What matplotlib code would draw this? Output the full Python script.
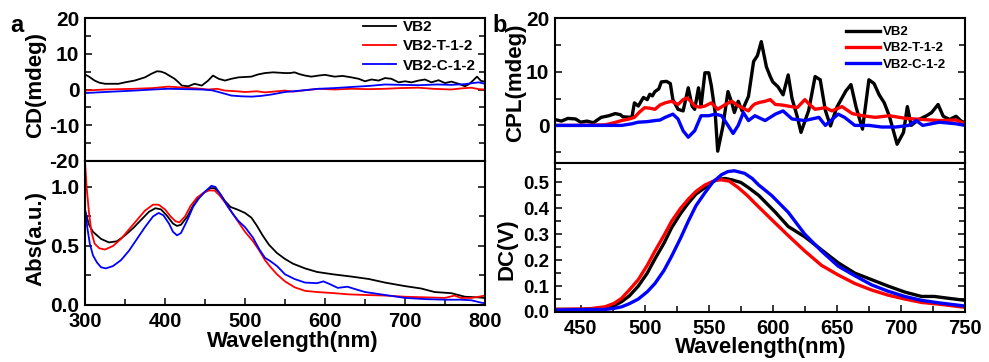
import matplotlib

matplotlib.use("Agg")
import matplotlib.pyplot as plt
from matplotlib.ticker import MultipleLocator

plt.rcParams["font.family"] = ["Liberation Sans", "DejaVu Sans"]
plt.rcParams["font.weight"] = "bold"
plt.rcParams["axes.unicode_minus"] = False

LABELS = ["VB2", "VB2-T-1-2", "VB2-C-1-2"]
COLORS = ["black", "#ff0000", "#0000ff"]

# ---- panel a, top: CD ----
cd_vb2_wl = [300, 305, 312, 318, 325, 342, 350, 362, 375, 383, 390, 395, 400, 406, 412, 417, 421, 429,
             437, 446, 454, 460, 467, 475, 483, 492, 500, 508, 516, 525, 535, 550, 556, 562, 568, 575,
             583, 592, 600, 612, 622, 633, 642, 650, 658, 667, 675, 683, 692, 700, 708, 717, 725, 733,
             742, 750, 758, 767, 775, 780, 785, 790, 795, 800]
cd_vb2 = [4.2, 3.6, 2.5, 1.9, 1.6, 1.6, 2.0, 2.5, 3.4, 4.4, 5.1, 5.0, 4.6, 3.8, 3.0, 2.0, 1.1, 0.9,
          1.6, 1.1, 2.5, 3.9, 3.0, 2.5, 3.0, 3.4, 3.5, 3.6, 4.2, 4.6, 4.8, 4.6, 4.6, 4.8, 4.3, 3.9,
          3.6, 3.9, 4.1, 3.6, 3.8, 3.4, 3.0, 2.3, 2.8, 2.5, 3.2, 3.0, 2.0, 2.3, 2.0, 2.5, 2.8, 2.0,
          2.6, 1.8, 2.2, 1.6, 0.9, 1.5, 2.5, 3.6, 2.4, 2.2]
cd_t_wl = [300, 325, 362, 385, 404, 412, 425, 440, 454, 465, 475, 490, 500, 515, 525, 540, 550, 560,
           575, 592, 612, 633, 655, 675, 695, 717, 735, 758, 770, 783, 792, 800]
cd_t = [-0.3, 0.0, 0.2, 0.4, 0.8, 0.7, 0.5, 0.3, 0.0, 0.2, -0.3, -0.5, -0.7, -0.5, -0.8, -0.5, -0.3, -0.6,
        -0.2, 0.2, 0.0, 0.2, 0.1, 0.2, 0.4, 0.5, 0.2, 0.0, 0.3, 0.5, 0.1, 0.0]
cd_c_wl = [300, 325, 362, 385, 404, 425, 446, 458, 467, 475, 483, 495, 508, 520, 533, 550, 570, 592,
           612, 633, 655, 675, 695, 717, 740, 758, 775, 785, 792, 800]
cd_c = [-1.0, -0.7, -0.3, 0.0, 0.2, 0.1, 0.0, -0.2, -0.7, -1.2, -1.7, -1.9, -2.0, -1.8, -1.4, -0.7, -0.3, 0.2,
        0.4, 0.7, 1.0, 1.4, 1.3, 1.2, 1.4, 1.3, 1.5, 1.8, 2.0, 1.6]

# ---- panel a, bottom: absorption ----
abs_vb2_wl = [300, 305, 310, 320, 330, 340, 350, 360, 370, 380, 388, 395, 402, 410, 415, 420, 428, 435,
              442, 450, 457, 462, 468, 475, 482, 490, 500, 508, 515, 522, 530, 540, 550, 560, 575, 590,
              610, 634, 655, 675, 700, 720, 737, 758, 775, 790, 800]
abs_vb2 = [0.80, 0.68, 0.62, 0.56, 0.53, 0.54, 0.59, 0.65, 0.72, 0.79, 0.82, 0.81, 0.76, 0.69, 0.67, 0.68,
           0.75, 0.84, 0.91, 0.96, 0.99, 0.99, 0.95, 0.88, 0.83, 0.81, 0.78, 0.74, 0.67, 0.59, 0.51, 0.44,
           0.39, 0.35, 0.31, 0.28, 0.26, 0.24, 0.22, 0.19, 0.16, 0.14, 0.11, 0.10, 0.07, 0.065, 0.06]
abs_t_wl = [300, 302, 305, 308, 312, 318, 325, 335, 345, 355, 365, 375, 385, 392, 400, 407, 413, 418,
            425, 432, 440, 448, 455, 462, 468, 475, 482, 490, 500, 510, 518, 525, 532, 540, 550, 562,
            575, 590, 612, 630, 650, 675, 700, 725, 750, 762, 770, 783, 792, 800]
abs_t = [1.22, 1.00, 0.78, 0.62, 0.52, 0.48, 0.47, 0.50, 0.56, 0.64, 0.72, 0.80, 0.85, 0.85, 0.81, 0.75,
         0.71, 0.70, 0.75, 0.84, 0.91, 0.95, 0.97, 0.97, 0.93, 0.87, 0.80, 0.72, 0.62, 0.54, 0.46, 0.38,
         0.32, 0.26, 0.20, 0.15, 0.12, 0.11, 0.10, 0.09, 0.085, 0.08, 0.07, 0.065, 0.06, 0.08, 0.06, 0.06,
         0.07, 0.08]
abs_c_wl = [300, 303, 306, 310, 315, 320, 326, 335, 345, 355, 365, 375, 385, 392, 398, 405, 410, 415,
            420, 428, 435, 442, 450, 458, 463, 470, 478, 485, 492, 500, 510, 518, 525, 532, 540, 550,
            562, 575, 590, 598, 605, 616, 628, 640, 650, 675, 700, 725, 750, 770, 783, 795, 800]
abs_c = [0.82, 0.65, 0.52, 0.42, 0.36, 0.32, 0.31, 0.33, 0.38, 0.46, 0.56, 0.66, 0.75, 0.78, 0.76, 0.69,
         0.62, 0.59, 0.61, 0.72, 0.83, 0.90, 0.96, 1.01, 1.00, 0.93, 0.84, 0.77, 0.71, 0.66, 0.57, 0.47,
         0.40, 0.37, 0.33, 0.26, 0.22, 0.19, 0.185, 0.20, 0.18, 0.145, 0.155, 0.13, 0.11, 0.085, 0.06,
         0.05, 0.045, 0.045, 0.04, 0.02, 0.015]

# ---- panel b, top: CPL ----
cpl_vb2_wl = [430, 435, 440, 446, 450, 455, 460, 466, 472, 477, 481, 483, 490, 492, 495, 499, 502, 504,
              506, 508, 511, 513, 517, 520, 522, 526, 530, 534, 537, 539, 542, 544, 547, 550, 552, 555,
              557, 561, 565, 568, 570, 573, 576, 581, 585, 588, 591, 595, 598, 600, 604, 608, 612, 615,
              619, 622, 628, 633, 637, 641, 645, 650, 657, 661, 665, 670, 675, 679, 683, 687, 691, 697,
              702, 705, 708, 714, 720, 724, 729, 733, 738, 743, 747, 750]
cpl_vb2 = [1.1, 0.8, 1.3, 1.2, 0.6, 0.8, 0.5, 1.5, 1.8, 2.2, 2.0, 1.6, 1.5, 4.2, 3.6, 5.2, 4.8, 5.8,
           5.5, 6.3, 6.8, 8.1, 8.2, 7.8, 4.8, 3.0, 2.7, 7.0, 3.6, 3.0, 7.0, 3.6, 9.8, 9.8, 7.4, 2.4,
           -4.8, -0.2, 6.3, 4.2, 2.4, 4.5, 2.7, 5.4, 11.9, 13.0, 15.6, 10.9, 9.1, 8.1, 7.2, 5.7, 9.4, 5.0,
           1.7, -1.3, 2.8, 9.1, 8.5, 2.8, -0.1, 3.4, 6.4, 7.6, 3.4, -0.7, 8.5, 7.8, 5.7, 4.2, 1.7, -3.5,
           -1.3, 3.5, 0.0, 1.1, 1.8, 2.4, 3.9, 1.7, 1.1, 1.7, 0.8, 0.5]
cpl_t_wl = [430, 450, 469, 476, 482, 488, 492, 496, 500, 504, 508, 512, 516, 521, 526, 530, 533, 536,
            539, 543, 547, 552, 557, 563, 568, 572, 576, 581, 584, 586, 590, 594, 598, 602, 607, 612,
            619, 625, 629, 633, 641, 646, 654, 662, 670, 680, 691, 704, 717, 730, 743, 750]
cpl_t = [0.0, 0.0, 0.1, 0.5, 0.9, 1.2, 1.5, 2.5, 3.3, 3.2, 3.0, 3.8, 4.2, 4.5, 3.9, 4.8, 5.1, 4.5,
         3.6, 3.4, 3.6, 4.2, 3.0, 3.9, 4.5, 3.8, 3.3, 2.7, 3.6, 4.0, 4.3, 4.5, 4.8, 3.9, 3.8, 3.6,
         3.3, 4.8, 3.8, 3.0, 3.3, 2.7, 3.5, 2.2, 1.8, 1.5, 1.8, 1.3, 1.1, 0.9, 1.0, 0.3]
cpl_c_wl = [430, 450, 469, 482, 490, 495, 502, 508, 512, 516, 522, 526, 530, 534, 539, 544, 550, 555,
            560, 565, 569, 573, 577, 581, 586, 594, 602, 608, 615, 625, 636, 641, 651, 656, 664, 675,
            685, 696, 706, 712, 717, 730, 743, 750]
cpl_c = [0.0, 0.0, 0.0, 0.0, 0.3, 0.6, 0.7, 0.9, 1.0, 1.5, 2.1, 1.2, -1.0, -2.2, -1.0, 1.8, 1.8, 2.1,
         1.8, 0.0, -1.5, 0.0, 2.4, 0.9, 1.8, 0.9, 2.1, 2.7, 1.2, 0.9, 1.5, 0.0, 2.1, 1.5, 0.0, 0.0,
         -0.3, -0.3, 0.0, 0.9, 0.0, 0.6, 0.3, 0.0]

# ---- panel b, bottom: DC ----
dc_vb2_wl = [430, 450, 469, 476, 482, 488, 495, 502, 508, 515, 521, 528, 534, 540, 547, 552, 557, 563,
             568, 575, 581, 589, 595, 602, 612, 625, 638, 651, 664, 677, 690, 703, 716, 726, 737, 750]
dc_vb2 = [0.010, 0.010, 0.015, 0.024, 0.040, 0.062, 0.100, 0.150, 0.205, 0.265, 0.325, 0.380, 0.420,
          0.455, 0.480, 0.500, 0.512, 0.515, 0.510, 0.500, 0.480, 0.450, 0.420, 0.385, 0.330, 0.290,
          0.240, 0.190, 0.150, 0.125, 0.100, 0.077, 0.060, 0.060, 0.053, 0.045]
dc_t_wl = [430, 456, 469, 476, 482, 488, 495, 502, 508, 515, 521, 528, 534, 540, 547, 555, 560, 566,
           573, 580, 586, 599, 612, 625, 638, 651, 664, 677, 690, 703, 716, 730, 750]
dc_t = [0.010, 0.012, 0.020, 0.033, 0.053, 0.085, 0.125, 0.180, 0.235, 0.295, 0.350, 0.400, 0.435,
        0.465, 0.490, 0.508, 0.510, 0.505, 0.480, 0.450, 0.420, 0.357, 0.295, 0.235, 0.180, 0.143,
        0.110, 0.085, 0.065, 0.050, 0.037, 0.030, 0.018]
dc_c_wl = [430, 469, 476, 482, 488, 495, 502, 508, 515, 521, 528, 534, 540, 547, 553, 560, 565, 570,
           578, 584, 589, 599, 612, 625, 638, 651, 664, 677, 690, 703, 716, 730, 750]
dc_c = [0.008, 0.010, 0.014, 0.020, 0.032, 0.050, 0.078, 0.110, 0.160, 0.215, 0.285, 0.350, 0.410,
        0.460, 0.500, 0.530, 0.542, 0.545, 0.535, 0.515, 0.490, 0.450, 0.385, 0.300, 0.235, 0.177,
        0.140, 0.105, 0.080, 0.060, 0.045, 0.035, 0.023]

W, H = 989, 362


def rect(left, top, right, bottom):
    return [left / W, 1 - bottom / H, (right - left) / W, (bottom - top) / H]


def style(ax, xfs, yfs):
    for s in ax.spines.values():
        s.set_linewidth(1.5)
    ax.tick_params(which="both", direction="in", right=True, top=False, width=1.1, pad=4)
    ax.tick_params(which="major", length=5)
    ax.tick_params(which="minor", length=4)
    ax.tick_params(axis="x", labelsize=xfs, pad=5)
    ax.tick_params(axis="y", labelsize=yfs)


fig = plt.figure(figsize=(W / 100, H / 100), dpi=100)

ax_cd = fig.add_axes(rect(85, 18, 485, 161))
ax_abs = fig.add_axes(rect(85, 161, 485, 305))
ax_cpl = fig.add_axes(rect(555, 18, 965, 163))
ax_dc = fig.add_axes(rect(555, 163, 965, 312))

lw_a = 1.3
for wl, y, lab, c in zip([cd_vb2_wl, cd_t_wl, cd_c_wl], [cd_vb2, cd_t, cd_c], LABELS, COLORS):
    ax_cd.plot(wl, y, color=c, lw=lw_a, label=lab)
for wl, y, c in zip([abs_vb2_wl, abs_t_wl, abs_c_wl], [abs_vb2, abs_t, abs_c], COLORS):
    ax_abs.plot(wl, y, color=c, lw=lw_a)

lw_b = 2.4
for wl, y, lab, c in zip([cpl_vb2_wl, cpl_t_wl, cpl_c_wl], [cpl_vb2, cpl_t, cpl_c], LABELS, COLORS):
    ax_cpl.plot(wl, y, color=c, lw=lw_b, label=lab)
for wl, y, c in zip([dc_vb2_wl, dc_t_wl, dc_c_wl], [dc_vb2, dc_t, dc_c], COLORS):
    ax_dc.plot(wl, y, color=c, lw=lw_b)

# limits and ticks
ax_cd.set_xlim(300, 800)
ax_cd.set_ylim(-20, 20)
ax_cd.yaxis.set_major_locator(MultipleLocator(10))
ax_cd.yaxis.set_minor_locator(MultipleLocator(5))
ax_cd.set_xticks([])

ax_abs.set_xlim(300, 800)
ax_abs.set_ylim(0, 1.22)
ax_abs.xaxis.set_major_locator(MultipleLocator(100))
ax_abs.xaxis.set_minor_locator(MultipleLocator(50))
ax_abs.yaxis.set_major_locator(MultipleLocator(0.5))
ax_abs.yaxis.set_minor_locator(MultipleLocator(0.25))

ax_cpl.set_xlim(430, 750)
ax_cpl.set_ylim(-7, 20)
ax_cpl.yaxis.set_major_locator(MultipleLocator(10))
ax_cpl.yaxis.set_minor_locator(MultipleLocator(5))
ax_cpl.set_xticks([])

ax_dc.set_xlim(430, 750)
ax_dc.set_ylim(0, 0.575)
ax_dc.xaxis.set_major_locator(MultipleLocator(50))
ax_dc.xaxis.set_minor_locator(MultipleLocator(25))
ax_dc.yaxis.set_major_locator(MultipleLocator(0.1))
ax_dc.yaxis.set_minor_locator(MultipleLocator(0.05))

style(ax_cd, 14, 15)
style(ax_abs, 14.5, 15)
style(ax_cpl, 14, 15)
style(ax_dc, 14.5, 13.5)

lab_kw = dict(fontsize=16, fontweight="bold")
ax_cd.set_ylabel("CD(mdeg)", **lab_kw)
ax_cd.yaxis.set_label_coords(-0.097, 0.53)
ax_abs.set_ylabel("Abs(a.u.)", **lab_kw)
ax_abs.yaxis.set_label_coords(-0.097, 0.465)
ax_abs.set_xlabel("Wavelength(nm)", **lab_kw)
ax_abs.xaxis.set_label_coords(0.52, -0.18)
ax_cpl.set_ylabel("CPL(mdeg)", **lab_kw)
ax_cpl.yaxis.set_label_coords(-0.07, 0.55)
ax_dc.set_ylabel("DC(V)", **lab_kw)
ax_dc.yaxis.set_label_coords(-0.092, 0.42)
ax_dc.set_xlabel("Wavelength(nm)", **lab_kw)
ax_dc.xaxis.set_label_coords(0.503, -0.17)

ax_cd.legend(loc="upper left", bbox_to_anchor=(0.695, 0.985), frameon=False,
             handlelength=2.15, handletextpad=0.45, labelspacing=0.35, borderpad=0, borderaxespad=0,
             prop={"weight": "bold", "size": 11})
ax_cpl.legend(loc="upper left", bbox_to_anchor=(0.71, 0.945), frameon=False,
              handlelength=2.6, handletextpad=0.2, labelspacing=0.3, borderpad=0, borderaxespad=0,
              prop={"weight": "bold", "size": 9.5})

fig.text(10 / W, 1 - 32 / H, "a", fontsize=17, fontweight="bold")
fig.text(492 / W, 1 - 32 / H, "b", fontsize=17, fontweight="bold")

fig.savefig("out.png", dpi=100)
